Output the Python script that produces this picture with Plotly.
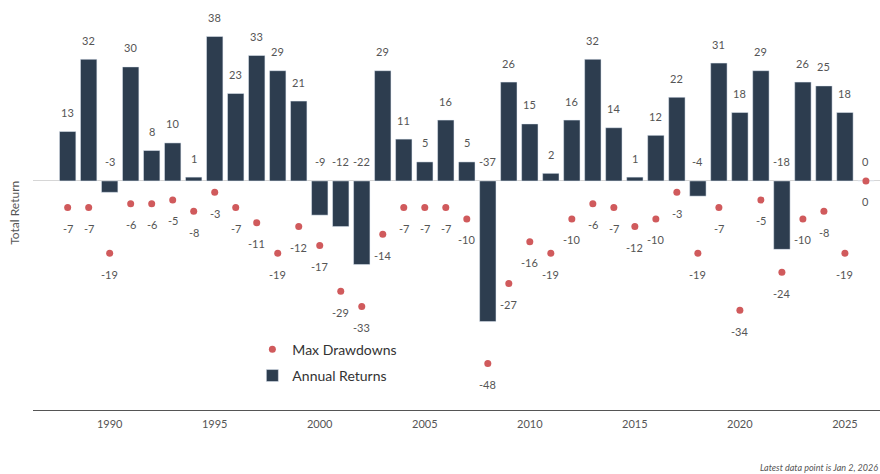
import plotly.graph_objects as go

years = list(range(1988, 2027))
annual_returns = [13, 32, -3, 30, 8, 10, 1, 38, 23, 33, 29, 21, -9, -12, -22, 29, 11, 5, 16, 5,
                  -37, 26, 15, 2, 16, 32, 14, 1, 12, 22, -4, 31, 18, 29, -18, 26, 25, 18, 0]
max_drawdowns = [-7, -7, -19, -6, -6, -5, -8, -3, -7, -11, -19, -12, -17, -29, -33, -14, -7, -7, -7, -10,
                 -48, -27, -16, -19, -10, -6, -7, -12, -10, -3, -19, -7, -34, -5, -24, -10, -8, -19, 0]
tick_years = [1990, 1995, 2000, 2005, 2010, 2015, 2020, 2025]

BAR = "#2d3d4f"
DOT = "#d05a5c"
TXT = "#555555"
FONT = "Lato"

fig = go.Figure()
fig.add_trace(go.Scatter(
    x=years, y=max_drawdowns, mode="markers", name="Max Drawdowns",
    marker=dict(color=DOT, size=7), cliponaxis=False, legendgroup="a"))
fig.add_trace(go.Bar(
    x=years, y=annual_returns, name="Annual Returns", marker_color=BAR,
    width=0.78, legendgroup="b"))

ann = []
for yr, v in zip(years, annual_returns):
    ann.append(dict(x=yr, y=max(v, 0), xref="x", yref="y", text=str(v), showarrow=False,
                    yshift=19, font=dict(size=11, color=TXT, family=FONT)))
for yr, v in zip(years, max_drawdowns):
    ann.append(dict(x=yr, y=v, xref="x", yref="y", text=str(v), showarrow=False,
                    yshift=-21, font=dict(size=11, color=TXT, family=FONT)))
ann.append(dict(x=-0.033, y=0.48, xref="paper", yref="paper", text="Total Return",
                textangle=-90, showarrow=False, font=dict(size=12, color=TXT, family=FONT)))
ann.append(dict(x=1.0, y=-0.14, xref="paper", yref="paper", xanchor="right", yanchor="middle",
                text="<i>Latest data point is Jan 2, 2026</i>", showarrow=False,
                font=dict(size=9, color=TXT, family=FONT)))

fig.update_layout(
    width=880, height=474,
    margin=dict(l=33, r=0, t=0, b=64),
    paper_bgcolor="white", plot_bgcolor="white",
    font=dict(family=FONT, color=TXT),
    annotations=ann,
    showlegend=True,
    legend=dict(x=0.259, y=0.186, xanchor="left", yanchor="top",
                font=dict(size=14, color="#333333", family=FONT),
                traceorder="grouped", tracegroupgap=5, bgcolor="rgba(0,0,0,0)",
                itemwidth=30),
    bargap=0.2,
    xaxis=dict(range=[1986.35, 2026.67], tickmode="array", tickvals=tick_years,
               showgrid=False, zeroline=False, showline=True, linecolor="#555555",
               linewidth=1, ticks="", ticklabelstandoff=4,
               tickfont=dict(size=11, color=TXT, family=FONT)),
    yaxis=dict(range=[-60.26, 47.6], showgrid=False, showticklabels=False,
               zeroline=True, zerolinecolor="#d6d6d6", zerolinewidth=1, ticks=""),
)

fig.write_html("out.html")
